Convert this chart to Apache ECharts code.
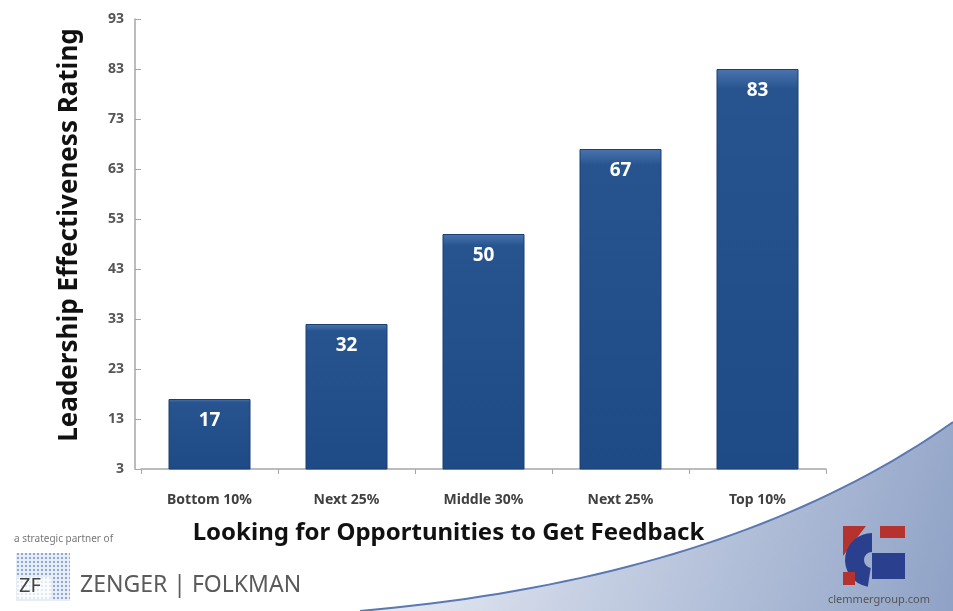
<!DOCTYPE html>
<html>
<head>
    <meta charset="utf-8"/>
    <title>Leadership Effectiveness Rating</title>
    <style>
        html, body { margin: 0; padding: 0; background: #fff; }
        #chart { width: 953px; height: 611px; }
    </style>
</head>
<body>
<div id="chart"></div>
<script src="https://cdn.jsdelivr.net/npm/echarts@6/dist/echarts.min.js"></script>
<script>
    // 数据
    var categories = ['Bottom 10%', 'Next 25%', 'Middle 30%', 'Next 25%', 'Top 10%'];
    var ratings = [17, 32, 50, 67, 83];
    var yTicks = [3, 13, 23, 33, 43, 53, 63, 73, 83, 93];

    var font = '"Noto Sans", "Open Sans", sans-serif';

    // 右下角弧形装饰（三次贝塞尔取点）
    function curvePoints(p0, p1, p2, p3, n) {
        var pts = [];
        for (var i = 0; i <= n; i++) {
            var t = i / n, u = 1 - t;
            pts.push([
                u * u * u * p0[0] + 3 * u * u * t * p1[0] + 3 * u * t * t * p2[0] + t * t * t * p3[0],
                u * u * u * p0[1] + 3 * u * u * t * p1[1] + 3 * u * t * t * p2[1] + t * t * t * p3[1]
            ]);
        }
        return pts;
    }
    var swoosh = curvePoints([360, 611], [600, 590], [800, 530], [953, 422], 40);
    var swooshArea = swoosh.concat([[953, 611]]);

    // ZF 点阵图案
    var dotCanvas = document.createElement('canvas');
    dotCanvas.width = 4;
    dotCanvas.height = 4;
    var dctx = dotCanvas.getContext('2d');
    dctx.fillStyle = '#e6edf6';
    dctx.fillRect(0, 0, 4, 4);
    dctx.fillStyle = '#8fa9cc';
    dctx.fillRect(1, 1, 2, 2);

    var option = {
        backgroundColor: '#fff',
        animation: false,
        grid: {
            left: 141,
            right: 127,
            top: 19,
            bottom: 142
        },
        xAxis: {
            type: 'category',
            data: categories,
            name: 'Looking for Opportunities to Get Feedback',
            nameLocation: 'middle',
            nameGap: 52,
            nameTextStyle: {
                fontFamily: font,
                fontWeight: 'bold',
                fontSize: 24,
                color: '#111',
                padding: [0, 70, 0, 0]
            },
            axisLine: { lineStyle: { color: '#a6a6a6', width: 1.5 } },
            axisTick: { show: true, length: 5, lineStyle: { color: '#a6a6a6' } },
            axisLabel: {
                margin: 24,
                fontFamily: font,
                fontWeight: 'bold',
                fontSize: 14,
                color: '#404040'
            }
        },
        yAxis: {
            type: 'value',
            min: 3,
            max: 93,
            offset: 6,
            name: 'Leadership Effectiveness Rating',
            nameLocation: 'middle',
            nameGap: 52,
            nameRotate: 90,
            nameTextStyle: {
                fontFamily: font,
                fontWeight: 'bold',
                fontSize: 26,
                color: '#111',
                padding: [0, 0, 0, 18]
            },
            splitLine: { show: false },
            axisLine: { show: true, lineStyle: { color: '#a6a6a6', width: 1.5 } },
            axisTick: {
                show: true,
                inside: true,
                length: 6,
                customValues: yTicks,
                lineStyle: { color: '#a6a6a6' }
            },
            axisLabel: {
                customValues: yTicks,
                margin: 11,
                fontFamily: font,
                fontWeight: 'bold',
                fontSize: 14,
                color: '#555'
            }
        },
        series: [{
            type: 'bar',
            data: ratings,
            barWidth: 82,
            itemStyle: {
                color: {
                    type: 'linear', x: 0, y: 0, x2: 0, y2: 1,
                    colorStops: [
                        { offset: 0, color: '#4a74b0' },
                        { offset: 0.05, color: '#27548f' },
                        { offset: 1, color: '#1e4a86' }
                    ]
                },
                borderColor: '#1a3f73',
                borderWidth: 1
            },
            label: {
                show: true,
                position: 'insideTop',
                distance: 12,
                fontFamily: font,
                fontWeight: 'bold',
                fontSize: 19,
                color: '#fff'
            }
        }],
        graphic: [
            {
                type: 'polygon',
                z: -10,
                shape: { points: swooshArea },
                style: {
                    fill: {
                        type: 'linear', x: 0, y: 0, x2: 1, y2: 1,
                        colorStops: [
                            { offset: 0, color: '#f1f3f8' },
                            { offset: 0.45, color: '#c4cee2' },
                            { offset: 1, color: '#8fa2c6' }
                        ]
                    }
                }
            },
            {
                type: 'polyline',
                z: -9,
                shape: { points: swoosh },
                style: { stroke: '#5a78b2', lineWidth: 2, fill: null }
            },
            {
                type: 'text',
                left: 14,
                top: 534,
                style: {
                    text: 'a strategic partner of',
                    fontFamily: font,
                    fontSize: 10,
                    fill: '#777'
                }
            },
            {
                type: 'rect',
                shape: { x: 16, y: 553, width: 54, height: 48 },
                style: { fill: { image: dotCanvas, repeat: 'repeat' } }
            },
            {
                type: 'rect',
                shape: { x: 17, y: 577, width: 34, height: 22 },
                style: { fill: 'rgba(255,255,255,0.75)' }
            },
            {
                type: 'text',
                left: 19,
                top: 576,
                style: {
                    text: 'ZF',
                    fontFamily: font,
                    fontSize: 20,
                    fill: '#444'
                }
            },
            {
                type: 'text',
                left: 80,
                top: 574,
                style: {
                    text: 'ZENGER | FOLKMAN',
                    fontFamily: font,
                    fontSize: 23,
                    fill: '#5a5a5a'
                }
            },
            // Clemmer 标志
            {
                type: 'polygon',
                shape: { points: [[843, 526], [866, 526], [843, 556]] },
                style: { fill: '#b5322e' }
            },
            {
                type: 'rect',
                shape: { x: 880, y: 526, width: 25, height: 12 },
                style: { fill: '#b5322e' }
            },
            {
                type: 'sector',
                shape: { cx: 872, cy: 560, r0: 8, r: 27, startAngle: Math.PI * 0.55, endAngle: Math.PI * 1.5 },
                style: { fill: '#2b3f8f' }
            },
            {
                type: 'rect',
                shape: { x: 872, y: 553, width: 33, height: 26 },
                style: { fill: '#2b3f8f' }
            },
            {
                type: 'rect',
                shape: { x: 843, y: 572, width: 12, height: 13 },
                style: { fill: '#b5322e' }
            },
            {
                type: 'text',
                left: 828,
                top: 594,
                style: {
                    text: 'clemmergroup.com',
                    fontFamily: font,
                    fontSize: 11,
                    fill: '#555'
                }
            }
        ]
    };

    var myChart = echarts.init(document.getElementById('chart'));
    myChart.setOption(option);
</script>
</body>
</html>
